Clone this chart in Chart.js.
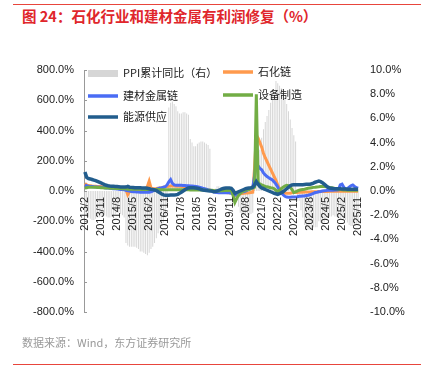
<!DOCTYPE html>
<html>
<head>
<meta charset="utf-8">
<script src="https://cdn.jsdelivr.net/npm/chart.js@4.4.1/dist/chart.umd.min.js"></script>
<style>
  body { margin: 0; background: #fff; }
  #wrap { position: relative; width: 422px; height: 372px; overflow: hidden; font-family: "Noto Sans CJK SC", sans-serif; }
  #topline, #botline { position: absolute; left: 13px; width: 408px; height: 1px; background: #e8453c; }
  #topline { top: 4px; }
  #botline { top: 364px; }
  #title { position: absolute; left: 22px; top: 5px; font-size: 14.5px; font-weight: bold; color: #e0262b; white-space: nowrap; }
  #source { position: absolute; left: 22px; top: 334px; font-size: 11px; color: #999; white-space: nowrap; }
  canvas { position: absolute; left: 0; top: 0; }
</style>
</head>
<body>
<div id="wrap">
  <div id="topline"></div>
  <div id="title">图 24：石化行业和建材金属有利润修复（%）</div>
  <canvas id="myChart" width="422" height="372"></canvas>
  <div id="source">数据来源：Wind，东方证券研究所</div>
  <div id="botline"></div>
</div>
<script>
// months 2013/2 .. 2025/11
const labels = [];
for (let y = 2013; y <= 2025; y++) {
  for (let m = 1; m <= 12; m++) {
    if (y === 2013 && m < 2) continue;
    if (y === 2025 && m > 11) continue;
    labels.push(y + "/" + m);
  }
}

const seriesNames = ["PPI累计同比（右）", "石化链", "建材金属链", "设备制造", "能源供应"];

// PPI cumulative yoy, right axis
const ppi = [
  -2.0, -2.1, -2.2, -2.3, -2.4, -2.4, -2.3, -2.2, -2.2, -2.1, -2.1,
  -2.0, -2.1, -2.2, -2.2, -2.1, -2.0, -1.9, -1.8, -1.8, -1.9, -2.0, -2.2,
  -4.3, -4.5, -4.6, -4.6, -4.6, -4.6, -4.7, -4.8, -5.0, -5.0, -5.1, -5.2,
  -5.3, -5.1, -4.8, -4.6, -4.3, -3.9, -3.5, -3.1, -2.9, -2.6, -2.2, -1.4,
  6.9, 7.3, 7.4, 7.2, 7.0, 6.6, 6.4, 6.4, 6.5, 6.5, 6.4, 6.3,
  4.3, 4.0, 3.7, 3.7, 3.9, 4.0, 4.1, 4.1, 4.0, 3.9, 3.8, 3.5,
  0.1, 0.1, 0.2, 0.4, 0.4, 0.3, 0.1, 0.0, -0.1, -0.2, -0.3, -0.3,
  0.1, -0.1, -0.6, -1.3, -1.8, -2.0, -2.1, -2.0, -2.0, -2.0, -1.9, -1.8,
  0.3, 0.8, 2.1, 3.4, 4.4, 5.1, 5.7, 6.2, 6.7, 7.3, 7.9, 8.1,
  9.1, 8.9, 8.7, 8.5, 8.1, 7.7, 7.2, 6.6, 5.9, 5.2, 4.6, 4.1,
  -0.8, -0.8, -1.6, -2.2, -2.8, -3.1, -3.2, -3.2, -3.1, -3.0, -3.0, -3.0,
  -2.5, -2.6, -2.7, -2.6, -2.4, -2.2, -2.1, -2.1, -2.0, -2.1, -2.1, -2.2,
  -2.3, -2.2, -2.3, -2.4, -2.6, -2.8, -2.9, -2.9, -2.8, -2.7, -2.7
];

// 石化链
const petro = [
  50, 40, 36, 35, 33, 32, 31, 30, 30, 29, 28,
  26, 25, 24, 22, 21, 20, 19, 18, 17, 16, 15, 14,
  10, -25, -5, 5, 5, 6, 6, 7, 8, 8, 9, 10,
  30, 65, 20, 15, 15, 16, 18, 20, 22, 25, 28, 30,
  32, 33, 33, 33, 32, 32, 31, 30, 29, 28, 27, 26,
  25, 24, 22, 20, 18, 16, 14, 12, 10, 8, 6, 5,
  2, 0, -3, -5, -7, -8, -9, -10, -10, -11, -12, -12,
  -20, -30, -25, -20, -18, -16, -15, -14, -13, -12, -10, -8,
  150, 370, 350, 320, 290, 250, 220, 195, 170, 145, 120, 95,
  70, 40, 15, 0, -10, -15, -15, -15, -15, -12, -10, -10,
  -10, -9, -8, -8, -7, -7, -6, -6, -5, -5, -5, -5,
  -4, -4, -4, -3, -3, -3, -2, -2, -2, -2, -2, -2,
  -2, -2, -2, -2, -2, -2, -1, -1, -1, -1, -1
];

// 建材金属链
const metal = [
  38, 35, 32, 30, 30, 28, 27, 26, 25, 25, 24,
  22, 20, 20, 18, 17, 15, 15, 14, 12, 10, 10, 8,
  5, 2, 0, -3, -5, -5, -6, -7, -8, -8, -8, -8,
  -8, -8, -5, 0, 5, 10, 15, 20, 22, 25, 28, 40,
  60, 75, 50, 40, 38, 38, 38, 38, 37, 36, 35, 35,
  33, 33, 32, 30, 28, 25, 22, 18, 15, 12, 8, 5,
  0, -5, -8, -10, -12, -12, -12, -12, -12, -12, -12, -15,
  -20, -28, -20, -12, -8, -5, -5, 0, 5, 10, 15, 20,
  100, 190, 165, 150, 140, 120, 106, 95, 88, 80, 73, 60,
  45, 26, 5, -10, -25, -35, -40, -42, -42, -40, -40, -40,
  -38, -35, -35, -33, -33, -30, -28, -25, -20, -15, -10, -8,
  -5, -3, 0, 2, 3, 5, 5, 5, 5, 6, 7, 8,
  40, 45, 25, 12, 15, 25, 35, 40, 30, 22, 18
];

// 设备制造
const equip = [
  20, 22, 25, 25, 25, 24, 24, 23, 23, 22, 22,
  20, 20, 20, 18, 18, 18, 17, 17, 16, 16, 15, 15,
  15, 12, 12, 12, 12, 12, 12, 11, 11, 10, 10, 10,
  10, 10, 10, 10, 10, 10, 10, 9, 9, 9, 9, 8,
  8, 8, 8, 8, 8, 8, 8, 8, 8, 8, 8, 8,
  7, 7, 7, 7, 6, 6, 6, 6, 5, 5, 5, 5,
  5, 3, 0, 0, 0, 2, 2, 3, 3, 3, 5, 5,
  -30, -75, -50, -30, -15, -5, 0, 5, 8, 10, 15, 20,
  25, 640, 60, 45, 40, 35, 30, 28, 25, 22, 20, 15,
  5, -5, 5, 15, 25, 33, 38, 35, 25, 10, -10, -5,
  0, 5, 8, 10, 12, 15, 18, 20, 22, 24, 25, 27,
  28, 30, 30, 30, 28, 26, 24, 22, 20, 17, 14, 12,
  10, 8, 7, 6, 5, 5, 5, 5, 5, 5, 5
];

// 能源供应
const energy = [
  126, 90, 82, 80, 76, 72, 68, 63, 58, 53, 48,
  42, 38, 35, 33, 32, 31, 30, 29, 28, 27, 27, 26,
  26, 30, 25, 24, 23, 22, 22, 21, 21, 20, 20, 20,
  18, 15, 12, 10, 7, 3, -5, -12, -20, -26, -28, -28,
  -28, -27, -27, -26, -25, -22, -15, -8, 0, 8, 15, 20,
  22, 22, 22, 20, 18, 15, 10, 7, 5, 3, 1, 0,
  0, -5, -3, 0, 5, 10, 15, 18, 20, 20, 20, 18,
  5, -15, -10, -5, 0, 5, 10, 15, 18, 20, 22, 25,
  40, 62, 45, 30, 20, 15, 10, 5, 0, -5, -10, -15,
  -18, -22, -18, -12, -5, 5, 15, 25, 35, 40, 42, 42,
  42, 42, 42, 42, 43, 44, 45, 45, 48, 52, 58, 62,
  65, 62, 55, 45, 35, 25, 20, 18, 16, 15, 15, 15,
  15, 14, 13, 13, 12, 12, 12, 12, 12, 12, 12
];

const colors = ["#d6d6d6", "#ff9a4d", "#4a6cf5", "#72ad45", "#225d8d"];

// legend laid out in two columns inside the plot
const legendSpots = [[88, 73], [223, 72], [88, 96], [223, 95], [88, 117]];
const legendPlugin = {
  id: "legendBox",
  afterDraw(chart) {
    const ctx = chart.ctx;
    ctx.save();
    ctx.font = '11px "Noto Sans CJK SC"';
    ctx.textBaseline = "middle";
    legendSpots.forEach(([x, y], i) => {
      if (i === 0) {
        ctx.fillStyle = colors[0];
        ctx.fillRect(x, y - 3, 30, 7);
      } else {
        ctx.strokeStyle = colors[i];
        ctx.lineWidth = 3.5;
        ctx.beginPath();
        ctx.moveTo(x, y);
        ctx.lineTo(x + 30, y);
        ctx.stroke();
      }
      ctx.fillStyle = "#222";
      ctx.fillText(seriesNames[i], x + 35, y);
    });
    ctx.restore();
  },
};

// inner tick marks on left axis + month labels hanging under the zero line
const axisExtras = {
  id: "axisExtras",
  afterDraw(chart) {
    const ys = chart.scales.y;
    const xs = chart.scales.x;
    const ctx = chart.ctx;
    ctx.save();
    ctx.strokeStyle = "#999";
    ctx.lineWidth = 1;
    ys.ticks.forEach((t) => {
      const py = Math.round(ys.getPixelForValue(t.value)) + 0.5;
      ctx.beginPath();
      ctx.moveTo(ys.right, py);
      ctx.lineTo(ys.right + 3, py);
      ctx.stroke();
    });
    const y0 = ys.getPixelForValue(0) + 6;
    ctx.fillStyle = "#222";
    ctx.font = '11px "Liberation Sans"';
    ctx.textAlign = "right";
    ctx.textBaseline = "middle";
    labels.forEach((lab, i) => {
      if (i % 9 !== 0) return;
      ctx.save();
      ctx.translate(xs.getPixelForValue(i), y0);
      ctx.rotate(-Math.PI / 2);
      ctx.fillText(lab, 0, 0);
      ctx.restore();
    });
    ctx.restore();
  },
};

const lineDs = (i, data, order) => ({
  type: "line",
  label: seriesNames[i],
  data: data,
  yAxisID: "y",
  borderColor: colors[i],
  backgroundColor: colors[i],
  borderWidth: i === 4 ? 3.5 : 3,
  pointRadius: 0,
  tension: 0,
  order: order,
});

const myChart = new Chart(document.querySelector("#myChart"), {
  type: "bar",
  data: {
    labels: labels,
    datasets: [
      {
        label: seriesNames[0],
        data: ppi,
        yAxisID: "y1",
        backgroundColor: colors[0],
        barPercentage: 0.55,
        categoryPercentage: 1,
        order: 5,
      },
      lineDs(1, petro, 4),
      lineDs(2, metal, 3),
      lineDs(3, equip, 2),
      lineDs(4, energy, 1),
    ],
  },
  options: {
    responsive: false,
    devicePixelRatio: 1,
    animation: false,
    layout: { padding: { top: 70, bottom: 60, left: 0, right: 0 } },
    plugins: { legend: { display: false }, tooltip: { enabled: false } },
    scales: {
      x: {
        display: false,
        offset: true,
      },
      y: {
        position: "left",
        min: -800,
        max: 800,
        ticks: {
          stepSize: 200,
          padding: 10,
          color: "#222",
          font: { family: "Liberation Sans", size: 11 },
          callback: (v) => v.toFixed(1) + "%",
        },
        grid: { display: false, drawTicks: false },
        border: { display: true, color: "#999" },
        afterFit: (s) => { s.width = 84; },
      },
      y1: {
        position: "right",
        min: -10,
        max: 10,
        ticks: {
          stepSize: 2,
          padding: 11,
          color: "#222",
          font: { family: "Liberation Sans", size: 11 },
          callback: (v) => v.toFixed(1) + "%",
        },
        grid: { display: false, drawTicks: false },
        border: { display: false },
        afterFit: (s) => { s.width = 63; },
      },
    },
  },
  plugins: [legendPlugin, axisExtras],
});
</script>
</body>
</html>
